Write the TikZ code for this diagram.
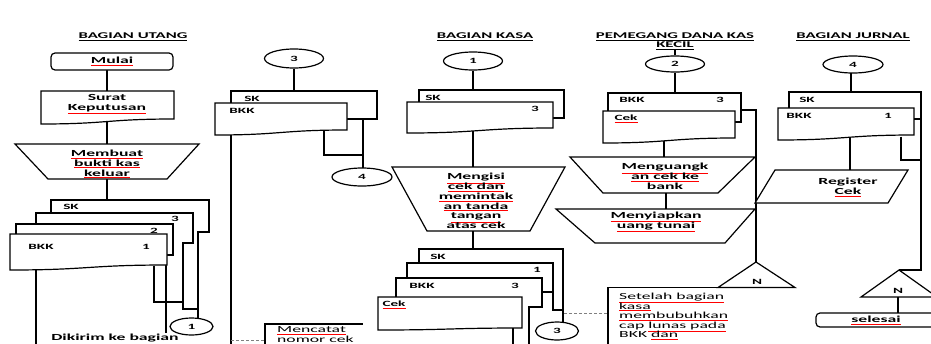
\documentclass[tikz,border=0pt]{standalone}
\usepackage{fontspec}
\setmainfont{Carlito}[FakeStretch=1.9]
\usetikzlibrary{shapes.geometric}
\newcommand{\ru}[1]{{\color{red}\underline{\color{black}#1}}}
\newcommand{\bu}[1]{\underline{#1}}
\newcommand{\tightlines}{\lineskiplimit=-20pt\relax}
% document shape: x1,y1,x2,yleft,yright
\newcommand{\docu}[5]{\filldraw[shp] (#1,#2) -- (#3,#2) -- (#3,#5) .. controls ({(#1+#3)/2},#5) and ({(#1+#3)/2},#4) .. (#1,#4) -- cycle;}
\begin{document}
\begin{tikzpicture}[x=1pt,y=-1pt,
  ln/.style={line width=1.2pt},
  shp/.style={draw, line width=1.2pt, fill=white},
  bt/.style={font=\fontsize{9.3}{9.8}\selectfont\bfseries\tightlines, align=center, inner sep=0},
  rt/.style={font=\fontsize{9.3}{9.5}\selectfont\tightlines, align=left, inner sep=0},
  lb/.style={font=\fontsize{8}{9}\selectfont\bfseries, inner sep=0},
  tt/.style={font=\fontsize{8.8}{9}\selectfont\bfseries, inner sep=0},
  con/.style={ellipse, draw, line width=1.2pt, fill=white, inner sep=0, font=\fontsize{8}{9}\selectfont\bfseries},
  dsh/.style={line width=0.8pt, gray, dash pattern=on 3pt off 2pt}]
\useasboundingbox (0,0) rectangle (931,343);
\clip (0,0) rectangle (931,343);
\fill[white] (0,0) rectangle (931,343);

% ================= BAGIAN UTANG =================
\node[tt] (t1) at (133,37) {\bu{BAGIAN UTANG}};
\coordinate (a1) at (107,70); \coordinate (a2) at (107,91);
\coordinate (a3) at (107,122); \coordinate (a4) at (107,144);
\coordinate (a5) at (107,179); \coordinate (a6) at (107,200);
\draw[ln] (a1) -- (a2); \draw[ln] (a3) -- (a4); \draw[ln] (a5) -- (a6);
\node[bt, draw, line width=1.2pt, fill=white, rounded corners=4pt, minimum width=122, minimum height=17] (mulai) at (112,61.5) {\ru{Mulai}};
\docu{41}{91}{174}{124}{119}
\node[bt] (surat) at (107,104.5) {Surat\\\ru{Keputusan}};
\filldraw[shp] (15,144) -- (199,144) -- (167,179) -- (48,179) -- cycle;
\node[bt] (buat) at (107,164) {\ru{Membuat}\\\ru{bukti kas}\\\ru{keluar}};
% stacked copies
\draw[ln] (51,213) |- (209,200) -- (209,232) -- (198,232) -- (198,319);
\draw[ln] (36,224) |- (193,213) -- (193,243) -- (183,243) -- (183,309) -- (198,309);
\draw[ln] (16,234) |- (173,224) -- (173,255) -- (166,255) -- (166,333);
\docu{10}{234}{167}{270}{265}
\draw[ln] (154,265.5) -- (154,302) -- (183,302);
\node[lb] at (71,207) {SK};
\node[lb] at (175,219) {3};
\node[lb] at (154,231) {2};
\node[lb] at (41,247) {BKK};
\node[lb] at (146,247) {1};
\draw[ln] (36,269.5) -- (36,350);
\node[con, minimum width=43, minimum height=17] (k1) at (191.5,326.5) {1};
\node[bt, anchor=base] (kirim) at (115,340) {Dikirim ke bagian};

% ================= column 2 =================
\node[con, minimum width=59, minimum height=19] (k3a) at (294,58.5) {3};
\draw[ln] (k3a.south) -- (294,91);
\draw[ln] (231,103) |- (377,91) -- (377,119) -- (347,119);
\docu{215}{103}{347}{135}{130}
\node[lb] at (252,98.5) {SK};
\node[lb] at (242,111) {BKK};
\draw[ln] (363,119) -- (363,168);
\draw[ln] (324,130.5) -- (324,155) -- (363,155);
\node[con, minimum width=60, minimum height=18] (k4a) at (362,177) {4};
\draw[ln] (231,134.5) -- (231,350);
\draw[dsh] (231,340) -- (265,340);
\draw[ln] (265,350) |- (363,324);
\node[rt, anchor=north west] (catat) at (277,326.8) {\ru{Mencatat}\\nomor cek};

% ================= BAGIAN KASA =================
\node[tt] (t3) at (485,37) {\bu{BAGIAN KASA}};
\node[con, minimum width=59, minimum height=18] (k1b) at (473,61) {1};
\draw[ln] (k1b.south) -- (473,90);
\draw[ln] (419,102) |- (564,90) -- (564,118) -- (553,118);
\docu{407}{102}{553}{133}{128}
\node[lb] at (433,97.5) {SK};
\node[lb] at (535,109) {3};
\draw[ln] (473,131) -- (473,167);
\filldraw[shp] (392,167) -- (565,167) -- (530,231) -- (427,231) -- cycle;
\node[bt] (isi) at (476,201) {\ru{Mengisi}\\\ru{cek dan}\\\ru{memintak}\\\ru{an tanda}\\\ru{tangan}\\atas cek};
\draw[ln] (473,231) -- (473,249);
\draw[ln] (419,263) |- (563,249) -- (563,322.5);
\draw[ln] (407,278) |- (553,263) -- (553,310) -- (563,310);
\draw[ln] (396,297) |- (542,278) -- (542,307) -- (529,307) -- (529,350);
\draw[ln] (542,292) -- (553,292);
\docu{378}{297}{522}{330}{328}
\draw[ln] (513,328.2) -- (513,350);
\node[lb] at (438,256.5) {SK};
\node[lb] at (537,270) {1};
\node[lb] at (422,285.5) {BKK};
\node[lb] at (515,285.5) {3};
\node[lb] at (394,305) {\ru{Cek}};
\node[con, minimum width=43, minimum height=18] (k3b) at (557,331) {3};
\draw[dsh] (564,313) -- (608,313);

% ================= PEMEGANG DANA KAS KECIL =================
\node[tt] (t4a) at (675,37) {\bu{PEMEGANG DANA KAS}};
\node[tt] (t4b) at (675,45.5) {\bu{KECIL}};
\node[con, minimum width=59, minimum height=16] (k2) at (675,64) {2};
\draw[ln] (t4b.south) -- (k2.north);
\draw[ln] (k2.south) -- (675,93);
\draw[ln] (608,111) |- (741,93) -- (741,122) -- (735,122);
\draw[ln] (741,110) -- (756,110) -- (756,262);
\docu{603}{111}{735}{143}{138}
\node[lb] at (632,100) {BKK};
\node[lb] at (720,100) {3};
\node[lb] at (626,119) {\ru{Cek}};
\draw[ln] (664,140.5) -- (664,157);
\filldraw[shp] (570,157) -- (755,157) -- (718,193) -- (603,193) -- cycle;
\node[bt] (uang) at (665,176.5) {\ru{Menguangk}\\\ru{an cek ke}\\bank};
\draw[ln] (666,193) -- (666,209);
\filldraw[shp] (556,209) -- (755,209) -- (725,243) -- (595,243) -- cycle;
\node[bt] (siap) at (656,222) {\ru{Menyiapkan}\\\ru{uang tunai}};
\draw[ln] (608,350) |- (718,287.5);
\filldraw[shp] (756,262) -- (795,287.5) -- (718,287.5) -- cycle;
\node[lb] at (757,282) {N};
\node[rt, anchor=north west] (stl) at (619,293) {\ru{Setelah bagian}\\\ru{kasa}\\\ru{membubuhkan}\\cap \ru{lunas pada}\\BKK \ru{dan}};

% ================= BAGIAN JURNAL =================
\node[tt] (t5) at (853,37) {\bu{BAGIAN JURNAL}};
\node[con, minimum width=60, minimum height=17] (k4b) at (853,64.5) {4};
\draw[ln] (851,73) -- (851,92);
\draw[ln] (789,108) |- (921,92) -- (921,270) -- (899,270);
\docu{778}{108}{914}{140}{135}
\draw[ln] (914,119) -- (921,119);
\draw[ln] (901,136.5) -- (901,160) -- (921,160);
\node[lb] at (807,99.5) {SK};
\node[lb] at (799,116) {BKK};
\node[lb] at (888,116) {1};
\draw[ln] (850,137.5) -- (850,170);
\filldraw[shp] (775,170) -- (908,170) -- (888,203) -- (755,203) -- cycle;
\node[bt] (reg) at (848,187.5) {Register\\\ru{Cek}};
\filldraw[shp] (899,270) -- (937,297) -- (861,297) -- cycle;
\node[lb] at (898,291) {N};
\draw[ln] (898,297) -- (898,313);
\node[bt, draw, line width=1.2pt, fill=white, rounded corners=4pt, minimum width=120, minimum height=14] (sel) at (876,320) {\ru{selesai}};
\end{tikzpicture}
\end{document}
